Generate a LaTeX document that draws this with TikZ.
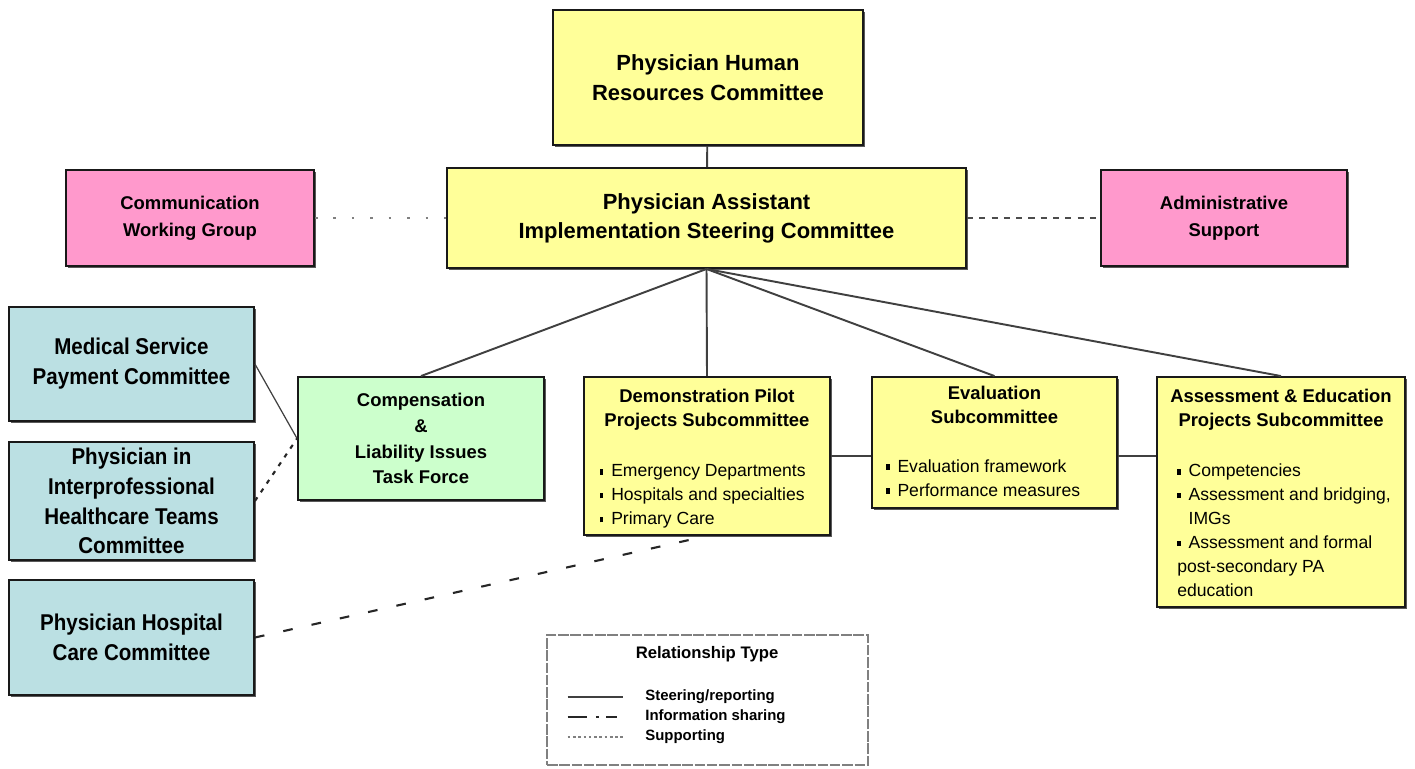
\documentclass[tikz,border=0pt]{standalone}
\usepackage{fontspec}
\setmainfont{Liberation Sans}
\newfontfamily\narrowsf[FakeStretch=0.9]{Liberation Sans}
\usetikzlibrary{positioning,shadows}

\definecolor{phyellow}{HTML}{FFFF99}
\definecolor{phpink}{HTML}{FF99CC}
\definecolor{phblue}{HTML}{BBE0E3}
\definecolor{phgreen}{HTML}{CCFFCC}
\definecolor{linegray}{HTML}{404040}

\newcommand{\bul}{\rule[1.3pt]{2pt}{3.2pt}\hspace{4.5pt}}

\begin{document}
\begin{tikzpicture}[x=0.02cm, y=-0.02cm,
    orgbox/.style={draw=black!90, line width=1.1pt, align=center, inner sep=0pt,
      drop shadow={shadow xshift=1.2pt, shadow yshift=-1.2pt, fill=black!65, opacity=1}},
    reportline/.style={draw=linegray, line width=1.1pt},
    infoline/.style={draw=black!85, line width=1.2pt, dash pattern=on 5.5pt off 11pt},
    supportline/.style={draw=gray!60!black, line width=1.2pt, dash pattern=on 3.5pt off 3.5pt},
    legtext/.style={anchor=west, inner sep=0pt, font=\bfseries\fontsize{8.5}{10}\selectfont}]
  \useasboundingbox (0,0) rectangle (1415,768);

  % 1. 上层委员会
  \node[orgbox, fill=phyellow, minimum width=6.2cm, minimum height=2.7cm,
    font=\bfseries\fontsize{12.5}{17}\selectfont] (hrc) at (708,77.5)
    {Physician Human\\Resources Committee};
  \node[orgbox, fill=phyellow, minimum width=10.38cm, minimum height=2cm,
    font=\bfseries\fontsize{12.5}{16.4}\selectfont] (steer) at (706.5,218)
    {Physician Assistant\\Implementation Steering Committee};
  \node[orgbox, fill=phpink, minimum width=4.96cm, minimum height=1.92cm,
    font=\bfseries\fontsize{10.5}{15.3}\selectfont] (comm) at (190,218)
    {Communication\\Working Group};
  \node[orgbox, fill=phpink, minimum width=4.92cm, minimum height=1.92cm,
    font=\bfseries\fontsize{10.5}{15.3}\selectfont] (admin) at (1224,218)
    {Administrative\\Support};

  % 2. 左侧相关委员会
  \node[orgbox, fill=phblue, minimum width=4.9cm, minimum height=2.28cm,
    font=\narrowsf\bfseries\fontsize{13}{17}\selectfont] (msp) at (131.5,364)
    {Medical Service\\Payment Committee};
  \node[orgbox, fill=phblue, minimum width=4.9cm, minimum height=2.36cm,
    font=\narrowsf\bfseries\fontsize{13}{17}\selectfont] (pic) at (131.5,501)
    {Physician in\\Interprofessional\\Healthcare Teams\\Committee};
  \node[orgbox, fill=phblue, minimum width=4.9cm, minimum height=2.3cm,
    font=\narrowsf\bfseries\fontsize{13}{17}\selectfont] (phc) at (131.5,637.5)
    {Physician Hospital\\Care Committee};

  % 3. 工作组与小组委员会
  \node[orgbox, fill=phgreen, minimum width=4.92cm, minimum height=2.46cm,
    font=\bfseries\fontsize{10.5}{14.7}\selectfont] (comp) at (421,438.5)
    {Compensation\\\&\\Liability Issues\\Task Force};
  \node[orgbox, fill=phyellow] (demo) at (707,456) {\parbox[c][3.16cm][t]{4.92cm}{%
      \vspace*{7pt}%
      {\centering\bfseries\fontsize{10.5}{13.6}\selectfont Demonstration Pilot\\Projects Subcommittee\par}
      \vspace{15pt}
      {\fontsize{10}{13.6}\selectfont\leftskip=9pt
      \bul Emergency Departments\\
      \bul Hospitals and specialties\\
      \bul Primary Care\par}}};
  \node[orgbox, fill=phyellow] (eval) at (994.5,442.5) {\parbox[c][2.62cm][t]{4.9cm}{%
      \vspace*{5pt}%
      {\centering\bfseries\fontsize{10.5}{13.6}\selectfont Evaluation\\Subcommittee\par}
      \vspace{14.4pt}
      {\fontsize{10}{13.6}\selectfont\leftskip=8pt
      \bul Evaluation framework\\
      \bul Performance measures\par}}};
  \node[orgbox, fill=phyellow] (assess) at (1281,492) {\parbox[c][4.6cm][t]{4.96cm}{%
      \vspace*{7pt}%
      {\centering\bfseries\fontsize{10.5}{13.6}\selectfont Assessment \& Education\\Projects Subcommittee\par}
      \vspace{15pt}
      {\fontsize{10}{13.6}\selectfont\leftskip=11.5pt
      \bul Competencies\\
      \bul Assessment and bridging,\\
      \hspace*{6.5pt}IMGs\\
      \bul Assessment and formal\\
      post-secondary PA\\
      education\par}}};

  % 4. 连线
  \draw[reportline] (hrc) -- (steer);
  \draw[reportline] (steer.south) -- (comp.north);
  \draw[reportline] (steer.south) -- (demo.north);
  \draw[reportline] (steer.south) -- (eval.north);
  \draw[reportline] (steer.south) -- (assess.north);
  \draw[reportline] (demo.east) -- (demo.east -| eval.west);
  \draw[reportline] (demo.east -| eval.east) -- (demo.east -| assess.west);
  \draw[reportline, line width=0.7pt] (msp.east) -- (comp.west);
  \draw[infoline, dash pattern=on 2.5pt off 3.5pt] (pic.east) -- (comp.west);
  \draw[infoline] (phc.east) -- (demo.south);
  \draw[supportline, draw=gray, dash pattern=on 1.5pt off 9pt] (comm) -- (steer);
  \draw[supportline] (steer) -- (admin);

  % 5. 图例
  \node[draw=gray, line width=1.3pt, dash pattern=on 6pt off 1pt,
    minimum width=6.42cm, minimum height=2.6cm] (legend) at (707.5,700) {};
  \node[font=\bfseries\fontsize{9.5}{11}\selectfont, inner sep=0pt] (legtitle) at (707,654) {Relationship Type};
  \node[legtext] (lsteer) at (645,697) {Steering/reporting};
  \node[legtext] (linfo) at (645,717) {Information sharing};
  \node[legtext] (lsupp) at (645,737) {Supporting};
  \draw[reportline] ([xshift=-44pt]lsteer.west) -- ([xshift=-12.5pt]lsteer.west);
  \draw[infoline, dash pattern=on 11pt off 5pt on 2pt off 4pt on 6pt off 4pt on 2pt off 4pt on 2pt off 4pt]
    ([xshift=-44pt]linfo.west) -- ([xshift=-12.5pt]linfo.west);
  \draw[supportline, draw=gray, line width=1pt, dash pattern=on 1.5pt off 1.5pt]
    ([xshift=-44pt]lsupp.west) -- ([xshift=-12.5pt]lsupp.west);
\end{tikzpicture}
\end{document}
